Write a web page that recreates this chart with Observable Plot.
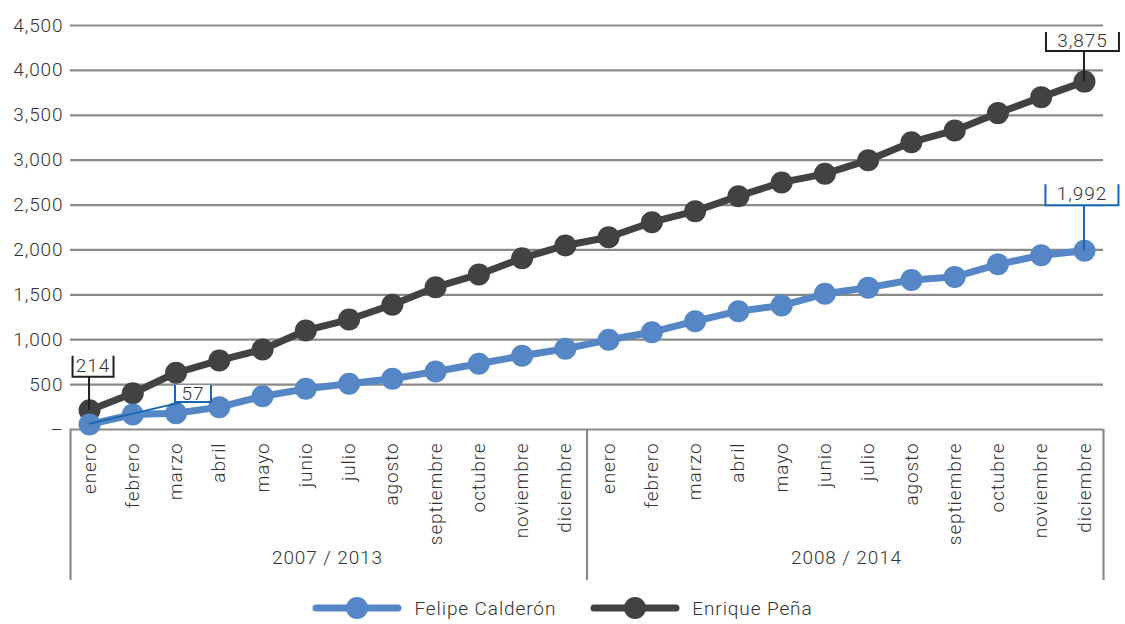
<!DOCTYPE html>
<html>
<head>
<meta charset="utf-8">
<script src="https://cdn.jsdelivr.net/npm/d3@7"></script>
<script src="https://cdn.jsdelivr.net/npm/@observablehq/plot@0.6"></script>
<style>
  body { margin: 0; background: #fff; }
  #chart svg { display: block; }
  .legend {
    height: 32px; display: flex; justify-content: center; align-items: center; gap: 34px;
    font-family: Roboto, "Helvetica Neue", Arial, sans-serif; font-weight: 300;
    font-size: 19px; letter-spacing: 0.9px; color: #333;
  }
  .legend .item { display: flex; align-items: center; gap: 12px; }
  .legend svg { display: block; }
</style>
</head>
<body>
<div id="chart"></div>
<div class="legend" id="legend"></div>
<script>
// Month names (repeated for each of the two years shown)
const months = ["enero", "febrero", "marzo", "abril", "mayo", "junio", "julio",
  "agosto", "septiembre", "octubre", "noviembre", "diciembre"];
// Year pairs: first / second year of each administration
const periods = ["2007 / 2013", "2008 / 2014"];
const seriesNames = ["Felipe Calderón", "Enrique Peña"];

// Cumulative monthly values, 24 months each
const calderon = [57, 167, 182, 249, 371, 453, 509, 565, 646, 732, 821, 899,
  999, 1084, 1206, 1318, 1381, 1512, 1580, 1665, 1700, 1840, 1940, 1992];
const pena = [214, 404, 632, 769, 891, 1103, 1225, 1389, 1585, 1727, 1908, 2050,
  2142, 2309, 2432, 2599, 2752, 2848, 3000, 3200, 3331, 3524, 3702, 3875];

const yTicks = [0, 500, 1000, 1500, 2000, 2500, 3000, 3500, 4000, 4500];

const seriesColors = ["#5586c5", "#414244"];
const calloutColors = ["#1766b1", "#231f20"];
const FONT = 'Roboto, "Helvetica Neue", Arial, sans-serif';

const seriesValues = [calderon, pena];
const rows = seriesValues.flatMap((vals, s) =>
  vals.map((v, i) => ({series: seriesNames[s], i, value: v})));

const fmt = d3.format(",");
const xDomain = [-0.44, months.length * periods.length - 0.56];
const monthIdx = d3.range(months.length * periods.length);
const boundaries = [xDomain[0], ...periods.slice(1).map((_, k) => (k + 1) * months.length - 0.5), xDomain[1]];

// Value callouts: a bracket box with the value, tied to its point by a leader line
const callouts = [
  {s: 1, i: 0, dx: 4, dy: -33, w: 41, h: 21, base: 5},
  {s: 0, i: 0, dx: 104, dy: -22, w: 36, h: 17, base: 2, lead: -10},
  {s: 1, i: 23, dx: -1.5, dy: -30, w: 73, h: 19, base: 4},
  {s: 0, i: 23, dx: -2, dy: -45, w: 73, h: 21, base: 5}
];

function drawCallouts(index, scales) {
  const {x, y} = scales;
  const g = d3.create("svg:g").attr("font-family", FONT);
  for (const c of callouts) {
    const v = seriesValues[c.s][c.i];
    const px = x(c.i), py = y(v);
    const cx = px + c.dx, bottom = py + c.dy;
    const col = calloutColors[c.s];
    g.append("path")
      .attr("d", `M${cx - c.w / 2},${bottom - c.h}V${bottom}H${cx + c.w / 2}V${bottom - c.h}`)
      .attr("fill", "#fff").attr("stroke", col).attr("stroke-width", 2);
    g.append("line")
      .attr("x1", px).attr("y1", py)
      .attr("x2", c.lead != null ? cx + c.lead : px).attr("y2", bottom)
      .attr("stroke", col).attr("stroke-width", 2);
    g.append("text")
      .attr("x", cx).attr("y", bottom - c.base)
      .attr("text-anchor", "middle")
      .attr("font-size", 19).attr("font-weight", 300).attr("letter-spacing", 0.9)
      .attr("fill", "#333")
      .text(fmt(v));
  }
  return g.node();
}

const chart = Plot.plot({
  width: 1125,
  height: 592,
  marginLeft: 70,
  marginRight: 22,
  marginTop: 25,
  marginBottom: 163,
  style: {fontFamily: FONT, fontSize: "19px", fontWeight: 300, color: "#333", letterSpacing: "0.9px", overflow: "visible"},
  x: {type: "linear", domain: xDomain},
  y: {domain: [0, 4500]},
  marks: [
    Plot.ruleY(yTicks, {stroke: "#8a8a8a", strokeWidth: 2.2}),
    Plot.ruleX(boundaries, {y1: 0, y2: 0, insetBottom: -151, stroke: "#8a8a8a", strokeWidth: 2.2}),
    Plot.axisY({ticks: yTicks, tickSize: 0, tickPadding: 7, label: null,
      tickFormat: d => d === 0 ? "–" : fmt(d)}),
    Plot.axisX({ticks: monthIdx, tickSize: 0, tickPadding: 13, tickRotate: -90, label: null,
      tickFormat: i => months[i % months.length]}),
    Plot.text(periods, {x: (d, k) => k * months.length + (months.length - 1) / 2,
      frameAnchor: "bottom", dy: 134, fill: "#333"}),
    Plot.line(rows.filter(d => d.series === seriesNames[1]), {x: "i", y: "value",
      stroke: seriesColors[1], strokeWidth: 7}),
    Plot.dot(rows.filter(d => d.series === seriesNames[1]), {x: "i", y: "value",
      r: 11, fill: seriesColors[1]}),
    Plot.line(rows.filter(d => d.series === seriesNames[0]), {x: "i", y: "value",
      stroke: seriesColors[0], strokeWidth: 7}),
    Plot.dot(rows.filter(d => d.series === seriesNames[0]), {x: "i", y: "value",
      r: 11, fill: seriesColors[0]}),
    drawCallouts
  ]
});
document.getElementById("chart").append(chart);

// Legend: line-and-marker swatch followed by the series name
const legend = d3.select("#legend");
seriesNames.forEach((name, s) => {
  const item = legend.append("div").attr("class", "item");
  const sw = item.append("svg").attr("width", 90).attr("height", 24);
  sw.append("line").attr("x1", 4).attr("x2", 86).attr("y1", 12).attr("y2", 12)
    .attr("stroke", seriesColors[s]).attr("stroke-width", 7).attr("stroke-linecap", "round");
  sw.append("circle").attr("cx", 45).attr("cy", 12).attr("r", 11).attr("fill", seriesColors[s]);
  item.append("span").text(name);
});
</script>
</body>
</html>
